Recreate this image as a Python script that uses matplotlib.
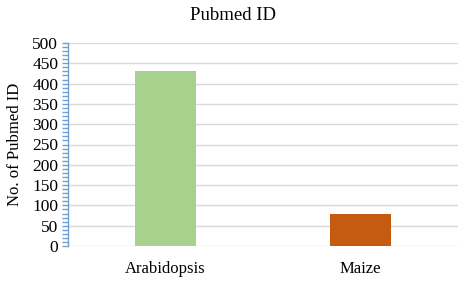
import matplotlib
matplotlib.use("Agg")
import matplotlib.pyplot as plt
from matplotlib.ticker import MultipleLocator

categories = ["Arabidopsis", "Maize"]
values = [430, 80]
colors = ["#A9D18E", "#C55A11"]
title = "Pubmed ID"
ylabel = "No. of Pubmed ID"

plt.rcParams['font.family'] = ['Liberation Serif', 'DejaVu Serif']

fig = plt.figure(figsize=(4.66, 2.81), dpi=100)
ax = fig.add_axes([68/466, 1-246/281, (458-68)/466, (246-43)/281])

x = list(range(len(categories)))
ax.bar(x, values, width=0.315, color=colors, zorder=3)
ax.set_xlim(-0.5, 1.5)
ax.set_ylim(0, 500)
ax.set_xticks(x)
ax.set_xticklabels(categories, fontsize=12)
ax.yaxis.set_major_locator(MultipleLocator(50))
ax.yaxis.set_minor_locator(MultipleLocator(10))
ax.tick_params(axis='y', which='both', colors='#6FA0D0', labelcolor='black', labelsize=12.5, direction='out', pad=3)
ax.tick_params(axis='y', which='major', length=4, width=1)
ax.tick_params(axis='y', which='minor', length=4, width=1)
ax.tick_params(axis='x', length=0, pad=11)
ax.grid(axis='y', which='major', color='#D9D9D9', linewidth=1, zorder=0)
for s in ['top', 'right', 'bottom']:
    ax.spines[s].set_visible(False)
ax.spines['left'].set_color('#6FA0D0')
ax.spines['left'].set_linewidth(1)
ax.set_ylabel(ylabel, fontsize=12, labelpad=7)
fig.text(0.5, 1-16/281, title, ha='center', va='center', fontsize=13.5)

fig.savefig("out.png", dpi=100)
